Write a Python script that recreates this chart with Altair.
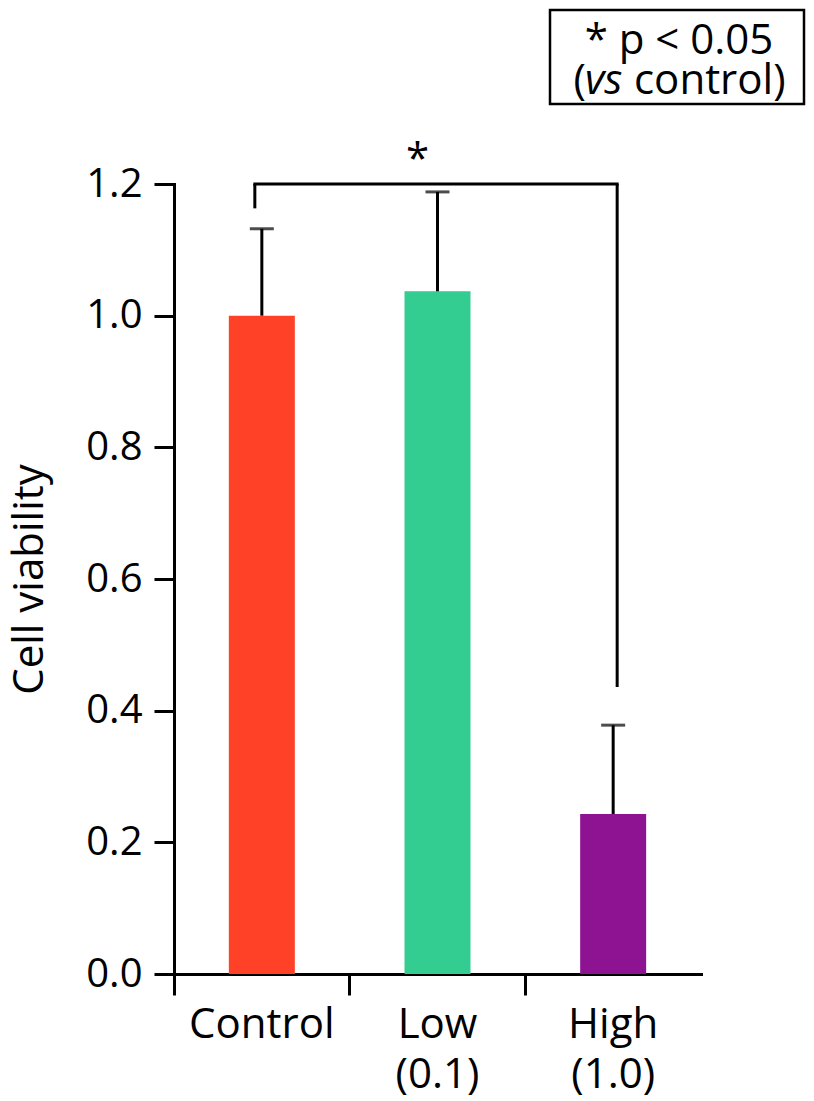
import altair as alt
import pandas as pd

# ---- data ----
categories = ["Control", "Low (0.1)", "High (1.0)"]
means = [1.0, 1.037, 0.243]
upper = [1.132, 1.188, 0.378]
colors = ["#FF4128", "#33CC91", "#8E1392"]

y_ticks = [0.0, 0.2, 0.4, 0.6, 0.8, 1.0, 1.2]

bracket_top = 1.2
bracket_left_end = 1.163
bracket_right_end = 0.436
sig_label = "*"

legend_line1 = "* p < 0.05"
legend_open = "("
legend_vs = "vs"
legend_rest = "control)"

FONT = "Open Sans"
FS = 42
FS_TICK = 40
LW = 3

df = pd.DataFrame({"group": categories, "mean": means, "upper": upper, "color": colors})

x_scale = alt.Scale(domain=categories, paddingInner=0, paddingOuter=0)

x_enc = alt.X(
    "group:N",
    scale=x_scale,
    axis=alt.Axis(
        title=None,
        labelAngle=0,
        labelExpr="split(datum.label, ' ')",
        labelLineHeight=50,
        labelFontSize=FS,
        labelFont=FONT,
        labelColor="black",
        labelPadding=9,
        labelBaseline="top",
        bandPosition=0,
        tickSize=21,
        tickWidth=LW,
        tickColor="black",
        domainWidth=LW,
        domainColor="black",
        domainCap="square",
    ),
)


def xg(field="group"):
    return alt.X(f"{field}:N", scale=x_scale)


y_scale = alt.Scale(domain=[0, 1.2], nice=False, zero=True)

bars = alt.Chart(df).mark_bar(size=66).encode(
    x=x_enc,
    y=alt.Y(
        "mean:Q",
        scale=y_scale,
        axis=alt.Axis(
            values=y_ticks,
            format=".1f",
            title="Cell viability",
            titleFont=FONT,
            titleFontSize=FS,
            titleFontWeight="normal",
            titleColor="black",
            titlePadding=34,
            labelFont=FONT,
            labelFontSize=FS_TICK,
            labelColor="black",
            labelPadding=12,
            tickSize=20,
            tickWidth=LW,
            tickColor="black",
            domainWidth=LW,
            domainColor="black",
            domainCap="square",
            grid=False,
        ),
    ),
    color=alt.Color("color:N", scale=None),
)

err_line = alt.Chart(df).mark_rule(strokeWidth=LW, color="black").encode(
    x=xg(),
    y=alt.Y("mean:Q", scale=y_scale),
    y2="upper:Q",
)

err_cap = alt.Chart(df).mark_tick(size=24, thickness=LW, color="black").encode(
    x=xg(),
    y=alt.Y("upper:Q", scale=y_scale),
)

bracket_df = pd.DataFrame({
    "group": [categories[0], categories[0], categories[2]],
    "group2": [categories[2], categories[0], categories[2]],
    "y1": [bracket_top, bracket_top, bracket_top],
    "y2": [bracket_top, bracket_left_end, bracket_right_end],
})
bracket_h = alt.Chart(bracket_df.iloc[[0]]).mark_rule(
    strokeWidth=LW, color="black", xOffset=-7, x2Offset=4, strokeCap="square"
).encode(
    x=xg(),
    x2="group2:N",
    y=alt.Y("y1:Q", scale=y_scale),
)
bracket_l = alt.Chart(bracket_df.iloc[[1]]).mark_rule(
    strokeWidth=LW, color="black", xOffset=-7
).encode(
    x=xg(),
    y=alt.Y("y1:Q", scale=y_scale),
    y2="y2:Q",
)
bracket_r = alt.Chart(bracket_df.iloc[[2]]).mark_rule(
    strokeWidth=LW, color="black", xOffset=4
).encode(
    x=xg(),
    y=alt.Y("y1:Q", scale=y_scale),
    y2="y2:Q",
)

star_df = pd.DataFrame({"group": [categories[1]], "y": [bracket_top], "t": [sig_label]})
star = alt.Chart(star_df).mark_text(
    font=FONT, fontSize=FS, color="black", baseline="alphabetic", dy=-11, dx=-20
).encode(
    x=xg(),
    y=alt.Y("y:Q", scale=y_scale),
    text="t:N",
)

# ---- legend box (annotation, positioned in pixels) ----
box_df = pd.DataFrame({"a": [0]})
box = alt.Chart(box_df).mark_rect(fill=None, stroke="black", strokeWidth=2.5).encode(
    x=alt.value(376), x2=alt.value(630), y=alt.value(-174), y2=alt.value(-80)
)
l1 = alt.Chart(pd.DataFrame({"t": [legend_line1]})).mark_text(
    font=FONT, fontSize=FS, color="black", align="center", baseline="alphabetic"
).encode(x=alt.value(505), y=alt.value(-130), text="t:N")
l2a = alt.Chart(pd.DataFrame({"t": [legend_open]})).mark_text(
    font=FONT, fontSize=FS, color="black", align="right", baseline="alphabetic"
).encode(x=alt.value(412), y=alt.value(-90), text="t:N")
l2b = alt.Chart(pd.DataFrame({"t": [legend_vs]})).mark_text(
    font=FONT, fontSize=FS, fontStyle="italic", color="black", align="left", baseline="alphabetic"
).encode(x=alt.value(411), y=alt.value(-90), text="t:N")
l2c = alt.Chart(pd.DataFrame({"t": [legend_rest]})).mark_text(
    font=FONT, fontSize=FS, color="black", align="left", baseline="alphabetic"
).encode(x=alt.value(460), y=alt.value(-90), text="t:N")

chart = alt.layer(
    bars, err_line, err_cap, bracket_h, bracket_l, bracket_r, star, box, l1, l2a, l2b, l2c
).properties(
    width=527, height=790, padding=0, background="white"
).configure_view(stroke=None)

chart.save("out.html", embed_options={"renderer": "svg", "actions": False})
